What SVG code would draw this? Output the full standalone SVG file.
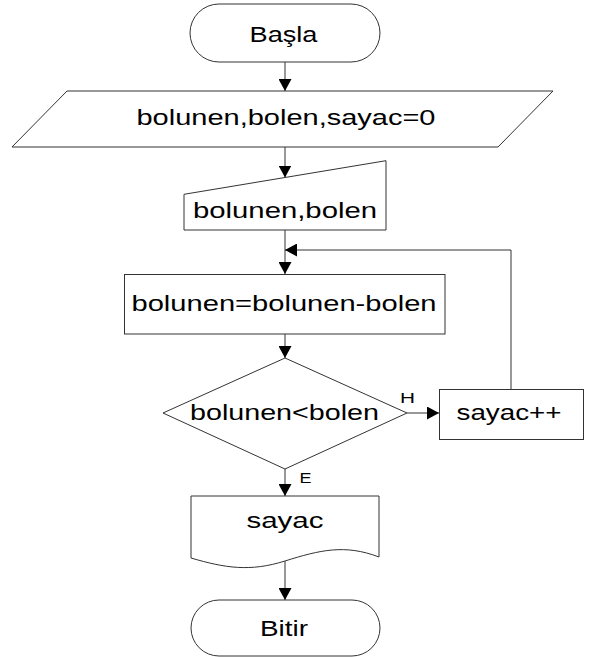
<svg xmlns="http://www.w3.org/2000/svg" width="592" height="657" viewBox="0 0 592 657">
<style>
.s{fill:#fff;stroke:#333;stroke-width:1}
.t{font-family:"Liberation Sans",Arial,sans-serif;font-size:22px;fill:#000}
.l{font-family:"Liberation Sans",Arial,sans-serif;font-size:15px;fill:#000}
.c{fill:none;stroke:#333;stroke-width:1;marker-end:url(#ah)}
</style>
<defs>
<marker id="ah" markerUnits="userSpaceOnUse" markerWidth="13" markerHeight="13" refX="12" refY="6.5" orient="auto">
<path d="M0,0 L12,6.5 L0,13 Z" fill="#000"/>
</marker>
</defs>
<rect width="592" height="657" fill="#fff"/>
<g id="connectors">
<path class="c" d="M285,62 V91"/>
<path class="c" d="M285,147 V177.5"/>
<path class="c" d="M285,230 V274"/>
<path class="c" d="M511,389 V250 H285"/>
<path class="c" d="M285,334 V358"/>
<path class="c" d="M407,413 H439"/>
<path class="c" d="M285,469 V496"/>
<path class="c" d="M285,561 V600"/>
<text class="l" x="400" y="403" textLength="15" lengthAdjust="spacingAndGlyphs">H</text>
<text class="l" x="299.5" y="483" textLength="12" lengthAdjust="spacingAndGlyphs">E</text>
</g>
<g id="basla">
<rect class="s" x="190" y="4" width="190" height="58" rx="29"/>
<text class="t" x="249.5" y="41.5" textLength="68" lengthAdjust="spacingAndGlyphs">Başla</text>
</g>
<g id="init">
<polygon class="s" points="67,91 553,91 498,147 12,147"/>
<text class="t" x="136.5" y="125" textLength="299" lengthAdjust="spacingAndGlyphs">bolunen,bolen,sayac=0</text>
</g>
<g id="input">
<polygon class="s" points="184,194.3 386,160.7 386,230 184,230"/>
<text class="t" x="193" y="218" textLength="184" lengthAdjust="spacingAndGlyphs">bolunen,bolen</text>
</g>
<g id="process">
<rect class="s" x="124.5" y="274.5" width="320.5" height="59.5"/>
<text class="t" x="131.5" y="311" textLength="305" lengthAdjust="spacingAndGlyphs">bolunen=bolunen-bolen</text>
</g>
<g id="decision">
<polygon class="s" points="285,358 407,413 285,469 163,413"/>
<text class="t" x="190" y="420" textLength="189" lengthAdjust="spacingAndGlyphs">bolunen&lt;bolen</text>
</g>
<g id="increment">
<rect class="s" x="439.5" y="389.5" width="144" height="50"/>
<text class="t" x="456.5" y="419.5" textLength="105" lengthAdjust="spacingAndGlyphs">sayac++</text>
</g>
<g id="output">
<path class="s" d="M191,496 H379 V557 C345,544 320,550 285,561 C250,572 225,568 191,558 Z"/>
<text class="t" x="246.5" y="528" textLength="77" lengthAdjust="spacingAndGlyphs">sayac</text>
</g>
<g id="bitir">
<rect class="s" x="191" y="600" width="189" height="56" rx="28"/>
<text class="t" x="260" y="636" textLength="48" lengthAdjust="spacingAndGlyphs">Bitir</text>
</g>
</svg>
